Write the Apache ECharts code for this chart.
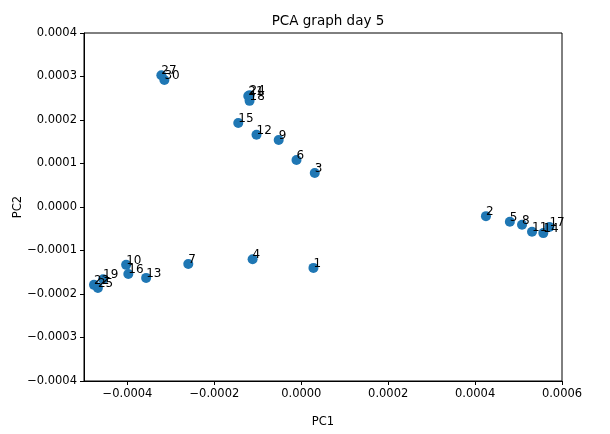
<!DOCTYPE html>
<html>
<head>
<meta charset="utf-8">
<script src="https://cdn.jsdelivr.net/npm/echarts@6/dist/echarts.min.js"></script>
<style>html,body{margin:0;padding:0;background:#fff}#c{width:610px;height:434px}</style>
</head>
<body>
<div id="c"></div>
<script>
var labels = ['1','2','3','4','5','6','7','8','9','10','11','12','13','14','15','16','17','18','19','21','22','24','25','27','30'];
var pc1 = [0.000028,0.000425,0.000031,-0.000112,0.000480,-0.000011,-0.000260,0.000508,-0.000052,-0.000403,0.000531,-0.000103,-0.000357,0.000557,-0.000145,-0.000398,0.000571,-0.000119,-0.000456,-0.000122,-0.000477,-0.000119,-0.000468,-0.000322,-0.000315];
var pc2 = [-0.000140,-0.000021,0.000078,-0.000120,-0.000034,0.000108,-0.000131,-0.000041,0.000154,-0.000133,-0.000057,0.000166,-0.000163,-0.000060,0.000193,-0.000154,-0.000046,0.000244,-0.000166,0.000255,-0.000179,0.000257,-0.000186,0.000303,0.000292];
var xTicks = [-0.0004,-0.0002,0,0.0002,0.0004,0.0006];
var yTicks = [-0.0004,-0.0003,-0.0002,-0.0001,0,0.0001,0.0002,0.0003,0.0004];

var data = labels.map(function(l,i){return {value:[pc1[i],pc2[i]], name:l};});
function fmt(v){
  var s = Number(v).toFixed(4);
  if (s === '-0.0000') s = '0.0000';
  return s.replace('-', '\u2212');
}
var font = 'DejaVu Sans';
var chart = echarts.init(document.getElementById('c'), null, {renderer:'canvas'});
chart.setOption({
  animation:false,
  backgroundColor:'#fff',
  title:{text:'PCA graph day 5', left:323, top:9, textAlign:'center',
    textStyle:{fontFamily:font,fontSize:13.5,fontWeight:'normal',color:'#000'}},
  grid:{left:84,right:48,top:33,bottom:53,show:true,borderColor:'#000',borderWidth:1,
    containLabel:false,outerBoundsMode:'none'},
  xAxis:{type:'value',min:-0.0005,max:0.0006,name:'PC1',nameLocation:'middle',nameGap:35,nameMoveOverlap:false,
    nameTextStyle:{fontFamily:font,fontSize:11.5,color:'#000'},
    splitLine:{show:false},
    axisLine:{show:true,onZero:false,lineStyle:{color:'#000',width:1}},
    axisTick:{show:true,length:4,customValues:xTicks,lineStyle:{color:'#000'}},
    axisLabel:{customValues:xTicks,formatter:fmt,fontFamily:font,fontSize:11.5,color:'#000',margin:7}},
  yAxis:{type:'value',min:-0.0004,max:0.0004,interval:0.0001,name:'PC2',nameLocation:'middle',nameGap:60,nameMoveOverlap:false,
    nameTextStyle:{fontFamily:font,fontSize:11.5,color:'#000'},
    splitLine:{show:false},
    axisLine:{show:true,onZero:false,lineStyle:{color:'#000',width:1}},
    axisTick:{show:true,length:4,lineStyle:{color:'#000'}},
    axisLabel:{formatter:fmt,fontFamily:font,fontSize:11.5,color:'#000',margin:7}},
  series:[{type:'scatter',data:data,symbolSize:10,itemStyle:{color:'#1f77b4',opacity:1},
    label:{show:true,formatter:function(p){return p.name;},position:[5,5],align:'left',verticalAlign:'bottom',
      offset:[0,2],fontFamily:font,fontSize:12,color:'#000'}}]
});
</script>
</body>
</html>
